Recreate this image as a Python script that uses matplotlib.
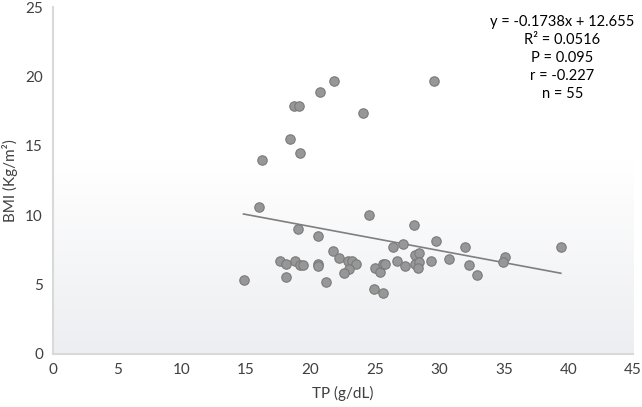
import matplotlib
matplotlib.use("Agg")
import matplotlib.pyplot as plt
import numpy as np
from matplotlib.colors import LinearSegmentedColormap

# === Data ===
tp = [21.8, 29.6, 20.7, 18.7, 19.1, 24.1, 18.4, 19.2, 16.2,
      16.0, 24.5, 28.0, 19.0, 20.6, 29.7, 27.2, 26.4, 32.0, 39.4,
      14.8, 17.6, 18.1, 18.8, 19.2, 19.4, 18.1, 20.6, 20.6, 21.2,
      21.7, 22.2, 22.9, 23.2, 23.5, 23.0, 22.6, 25.0, 25.4, 25.6,
      25.8, 26.7, 27.3, 28.1, 28.4, 28.1, 28.4, 28.3, 29.3, 30.7,
      32.3, 32.9, 24.9, 25.6, 35.1, 34.9]
bmi = [19.7, 19.7, 18.9, 17.9, 17.9, 17.4, 15.5, 14.5, 14.0,
       10.6, 10.0, 9.3, 9.0, 8.5, 8.1, 7.9, 7.7, 7.7, 7.7,
       5.3, 6.7, 6.5, 6.7, 6.4, 6.4, 5.5, 6.5, 6.3, 5.2,
       7.4, 6.9, 6.7, 6.7, 6.5, 6.1, 5.8, 6.2, 5.9, 6.5,
       6.5, 6.7, 6.3, 7.1, 7.3, 6.5, 6.6, 6.2, 6.7, 6.8,
       6.4, 5.7, 4.7, 4.4, 7.0, 6.6]

slope = -0.1738
intercept = 12.655
stats_text = "y = -0.1738x + 12.655\nR² = 0.0516\nP = 0.095\nr = -0.227\nn = 55"

x_ticks = [0, 5, 10, 15, 20, 25, 30, 35, 40, 45]
y_ticks = [0, 5, 10, 15, 20, 25]

plt.rcParams['font.family'] = ['Lato', 'DejaVu Sans']

fig = plt.figure(figsize=(6.42, 4.07), dpi=100)
ax = fig.add_axes([0.082, 0.131, 0.904, 0.851])
ax.set_xlim(0, 45)
ax.set_ylim(0, 25)

# soft gradient in the lower part of the plot area
cmap = LinearSegmentedColormap.from_list("bg", ["#edeef1", "#ffffff"])
grad = np.linspace(0, 1, 256).reshape(-1, 1)
ax.imshow(grad, extent=[0, 45, 0, 14], origin="lower", aspect="auto",
          cmap=cmap, zorder=0)

ax.scatter(tp, bmi, s=46, color="#979797", edgecolor="#7a7a7a",
           linewidth=0.8, zorder=3)

xl = np.array([min(tp), max(tp)])
ax.plot(xl, slope * xl + intercept, color="#7f7f7f", linewidth=1.2, zorder=2)

ax.text(0.878, 0.978, stats_text, transform=ax.transAxes, ha="center",
        va="top", fontsize=10.5, color="#000000", linespacing=1.36)

ax.set_xticks(x_ticks)
ax.set_yticks(y_ticks)
ax.tick_params(length=0, labelsize=11, colors="#404040", pad=7)
for s in ["top", "right"]:
    ax.spines[s].set_visible(False)
for s in ["left", "bottom"]:
    ax.spines[s].set_color("#d9d9d9")
    ax.spines[s].set_linewidth(1.5)

ax.set_xlabel("TP (g/dL)", fontsize=11, color="#404040", labelpad=6)
ax.set_ylabel("BMI (Kg/m²)", fontsize=11, color="#404040", labelpad=5)

fig.savefig("out.png", dpi=100)
